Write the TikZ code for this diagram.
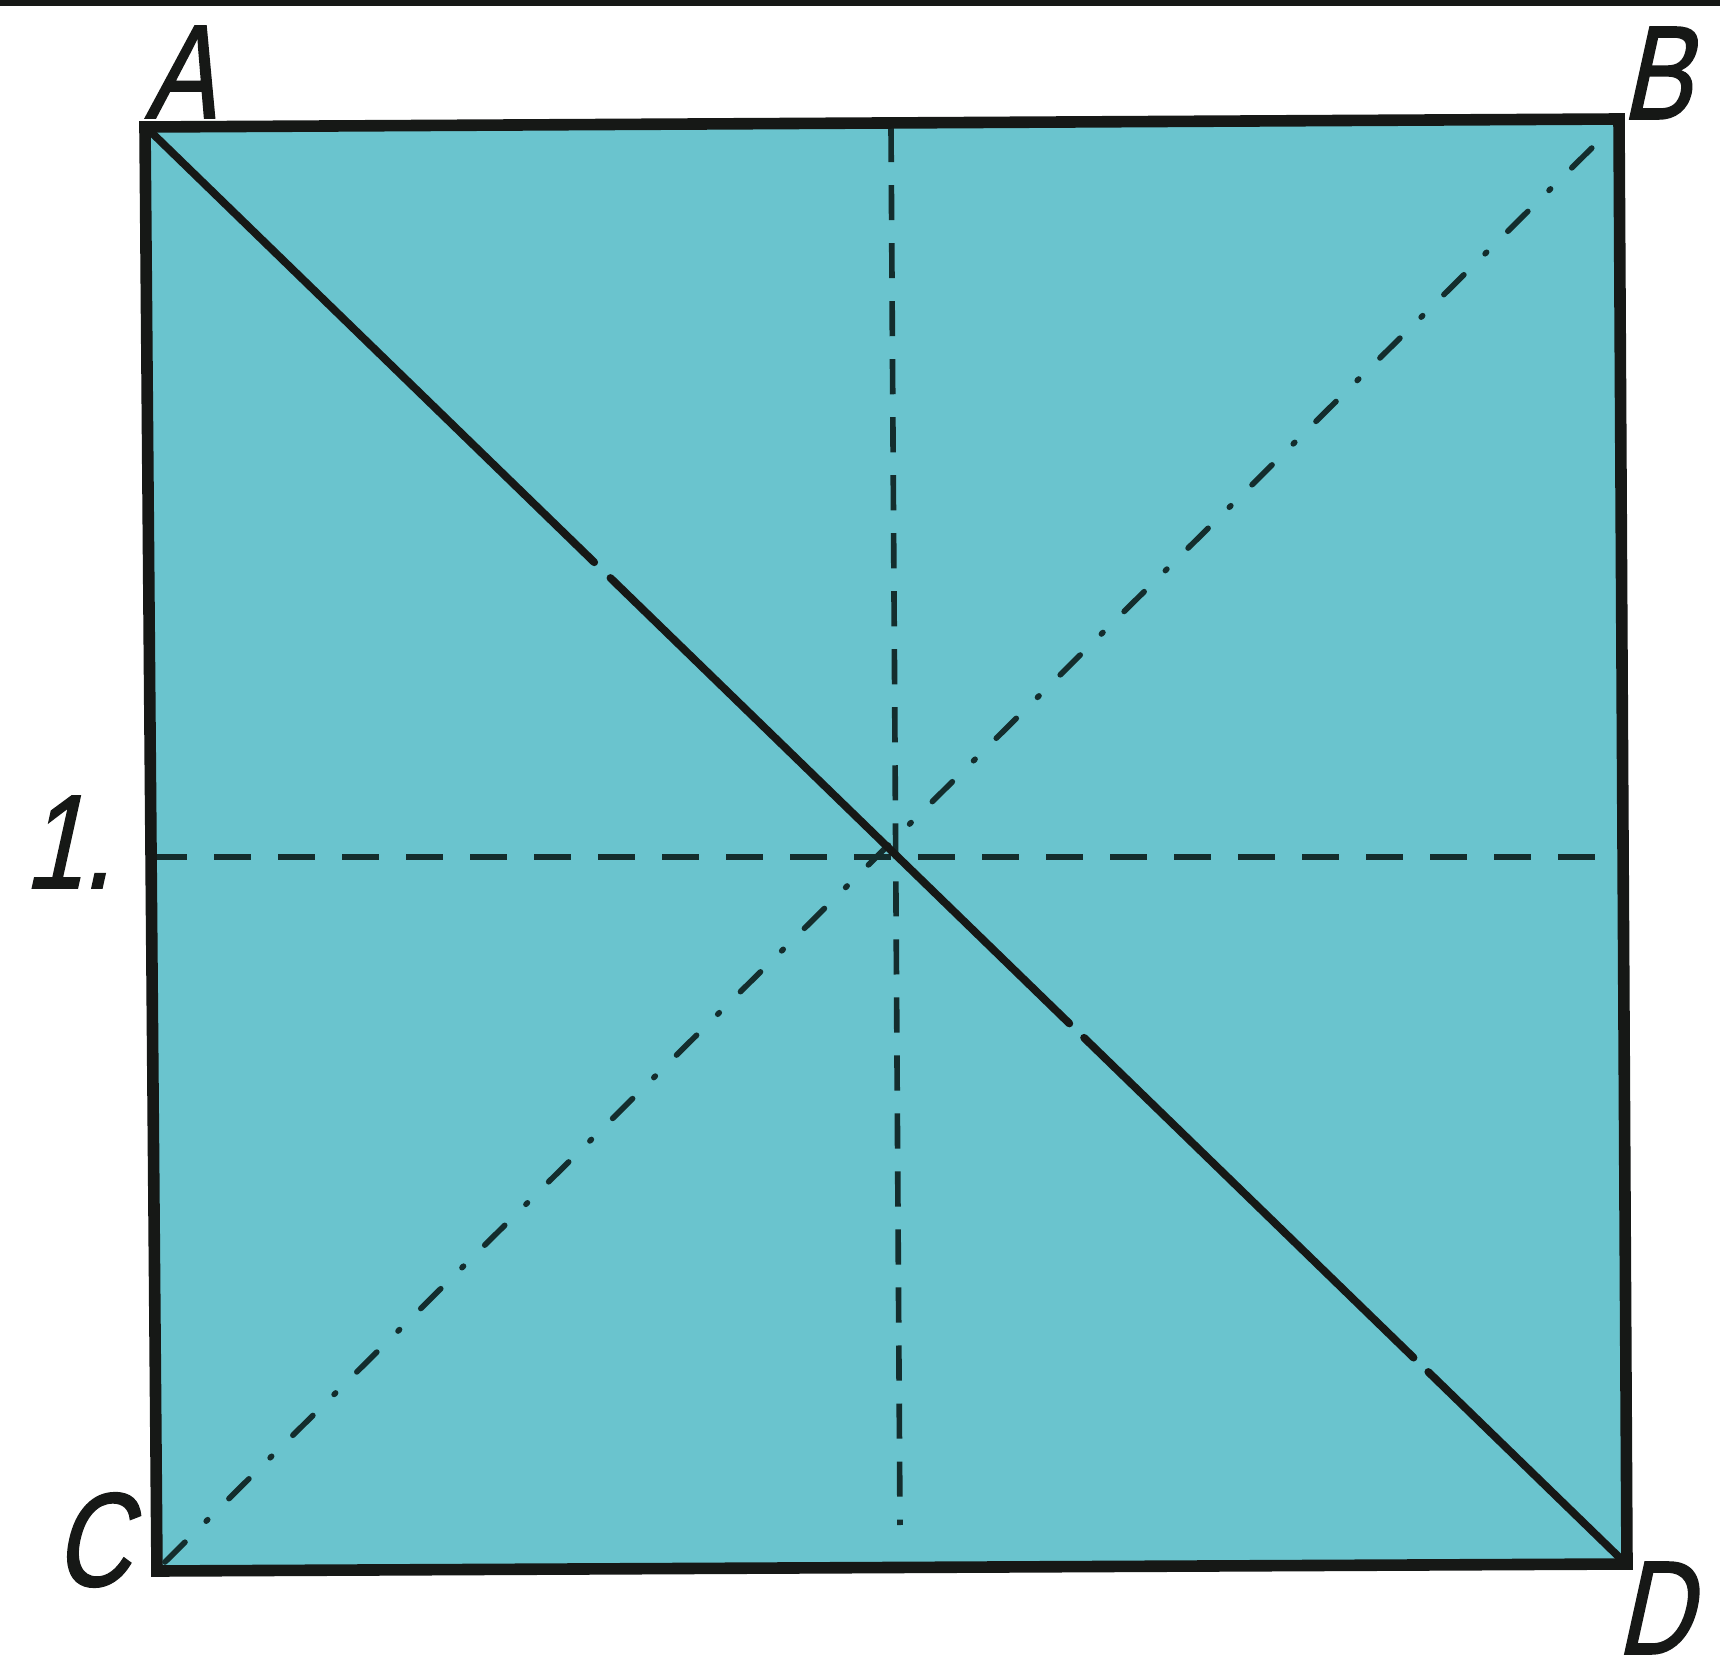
\documentclass[tikz,border=0pt]{standalone}
\usepackage{fontspec}
\setmainfont{Liberation Sans}
\newfontfamily\labfont[FakeStretch=0.78,FakeSlant=0.22,FakeBold=1.2]{Liberation Sans}
\usetikzlibrary{calc}
\definecolor{paper}{RGB}{106,196,206}
\definecolor{ink}{RGB}{22,24,22}
\definecolor{fold}{RGB}{20,45,45}
\tikzset{
  edge/.style={ink, line width=3.3pt, line join=miter},
  crease/.style={ink, line width=2.2pt, line cap=round},
  hfold/.style={fold, line width=1.6pt, dash pattern=on 10.5pt off 7.7pt},
  vfold/.style={fold, line width=1.6pt, dash pattern=on 10pt off 6.5pt},
  dashdot/.style={fold, line width=1.6pt, line cap=round, dash pattern=on 8pt off 8.5pt on 0.6pt off 8.5pt},
  lab/.style={font=\labfont\fontsize{38}{40}\selectfont, text=ink, inner sep=0pt}
}
\begin{document}
\begin{tikzpicture}[x=0.01cm, y=-0.01cm]
\useasboundingbox (0,0) rectangle (1720,1679);
\fill[white] (0,0) rectangle (1720,1679);
\fill[ink] (0,0) rectangle (1720,6);
% corners
\coordinate (A) at (145,127);
\coordinate (B) at (1619,119);
\coordinate (C) at (157,1571);
\coordinate (D) at (1627,1564);
\coordinate (O) at (893,855);
% paper
\fill[paper] (A) -- (B) -- (D) -- (C) -- cycle;
% fold lines
\coordinate (Vt) at (891,127);
\coordinate (Vb) at (900,1525);
\coordinate (Hl) at (150,857);
\coordinate (Hr) at (1613,857);
\draw[hfold] (Hl) -- (Hr);
\draw[vfold] (Vt) -- (Vb);
\coordinate (Ci) at (165,1562);
\coordinate (Bi) at (1612,128);
\draw[dashdot] (Ci) -- (Bi);
% solid diagonal with small breaks
\coordinate (Ai) at (150,131);
\coordinate (Di) at (1621,1559);
\draw[crease] (Ai) -- ($(Ai)!0.302!(Di)$);
\draw[crease] ($(Ai)!0.313!(Di)$) -- ($(Ai)!0.625!(Di)$);
\draw[crease] ($(Ai)!0.635!(Di)$) -- ($(Ai)!0.859!(Di)$);
\draw[crease] ($(Ai)!0.869!(Di)$) -- (Di);
% border
\draw[edge] (A) -- (B) -- (D) -- (C) -- cycle;
% labels
\node[lab] (la) at (180,72) {A};
\node[lab] (lb) at (1656,73) {B};
\node[lab] (lc) at (92,1540) {C};
\node[lab] (ld) at (1654,1608) {D};
\node[lab] (l1) at (68,842) {1.};
\end{tikzpicture}
\end{document}
